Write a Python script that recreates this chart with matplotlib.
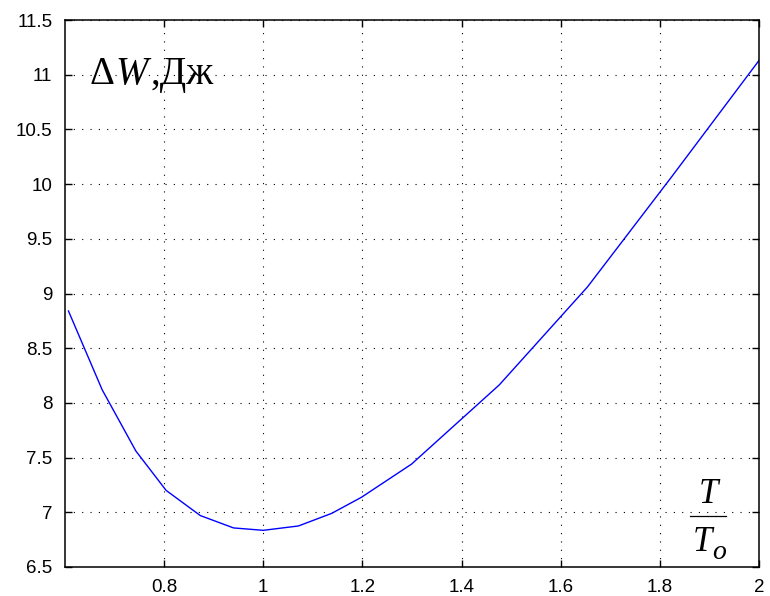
import numpy as np
import matplotlib
matplotlib.use("Agg")
import matplotlib.pyplot as plt

# значения
t_ratio = [0.607, 0.675, 0.743, 0.804, 0.873, 0.940, 1.0, 1.071, 1.138,
           1.198, 1.299, 1.476, 1.654, 1.822, 2.0]
dW = [8.84, 8.12, 7.56, 7.20, 6.97, 6.857, 6.835, 6.875, 6.99,
      7.137, 7.44, 8.164, 9.06, 10.056, 11.13]

x_ticks = [0.8, 1.0, 1.2, 1.4, 1.6, 1.8, 2.0]
x_labels = ["0.8", "1", "1.2", "1.4", "1.6", "1.8", "2"]
y_ticks = [6.5, 7, 7.5, 8, 8.5, 9, 9.5, 10, 10.5, 11, 11.5]
y_labels = ["6.5", "7", "7.5", "8", "8.5", "9", "9.5", "10", "10.5", "11", "11.5"]

plt.rcParams["font.family"] = ["Liberation Sans", "DejaVu Sans"]

fig = plt.figure(figsize=(7.7, 5.96), dpi=100)
ax = fig.add_axes([0.0844, 0.0487, 0.9013, 0.9177])

ax.plot(t_ratio, dW, color="#0000ff", lw=1.0)

ax.set_xlim(0.6, 2.0)
ax.set_ylim(6.5, 11.5)
ax.set_xticks(x_ticks)
ax.set_xticklabels(x_labels)
ax.set_yticks(y_ticks)
ax.set_yticklabels(y_labels)
ax.tick_params(direction="in", length=5, width=1.0, labelsize=13.5,
               top=True, right=True, pad=9, colors="black")
ax.grid(True, color="black", lw=0.8, linestyle=(0, (1, 6.5)))
for s in ax.spines.values():
    s.set_linewidth(1.1)

serif = "Liberation Serif"

# подпись "ΔW,Дж" из трёх кусков: W курсивом
t1 = ax.text(0.036, 0.883, "Δ", transform=ax.transAxes, family=serif,
             fontsize=28, va="baseline", ha="left")
t2 = ax.annotate("W", xy=(1, 0), xycoords=t1, family=serif, style="italic",
                 fontsize=28, va="bottom", ha="left")
t3 = ax.annotate(",Дж", xy=(1, 0), xycoords=t2, xytext=(2, 0),
                 textcoords="offset points", family=serif,
                 fontsize=28, va="bottom", ha="left")

# подпись T/To
ax.text(0.9265, 0.117, "T", transform=ax.transAxes, family=serif,
        style="italic", fontsize=25, va="baseline", ha="center")
ax.plot([0.9006, 0.9524], [0.0932, 0.0932], transform=ax.transAxes,
        color="black", lw=0.9, clip_on=False)
ax.text(0.904, 0.0293, "T", transform=ax.transAxes, family=serif,
        style="italic", fontsize=25, va="baseline", ha="left")
ax.text(0.933, 0.0146, "o", transform=ax.transAxes, family=serif,
        style="italic", fontsize=20, va="baseline", ha="left")

fig.savefig("out.png", dpi=100)
